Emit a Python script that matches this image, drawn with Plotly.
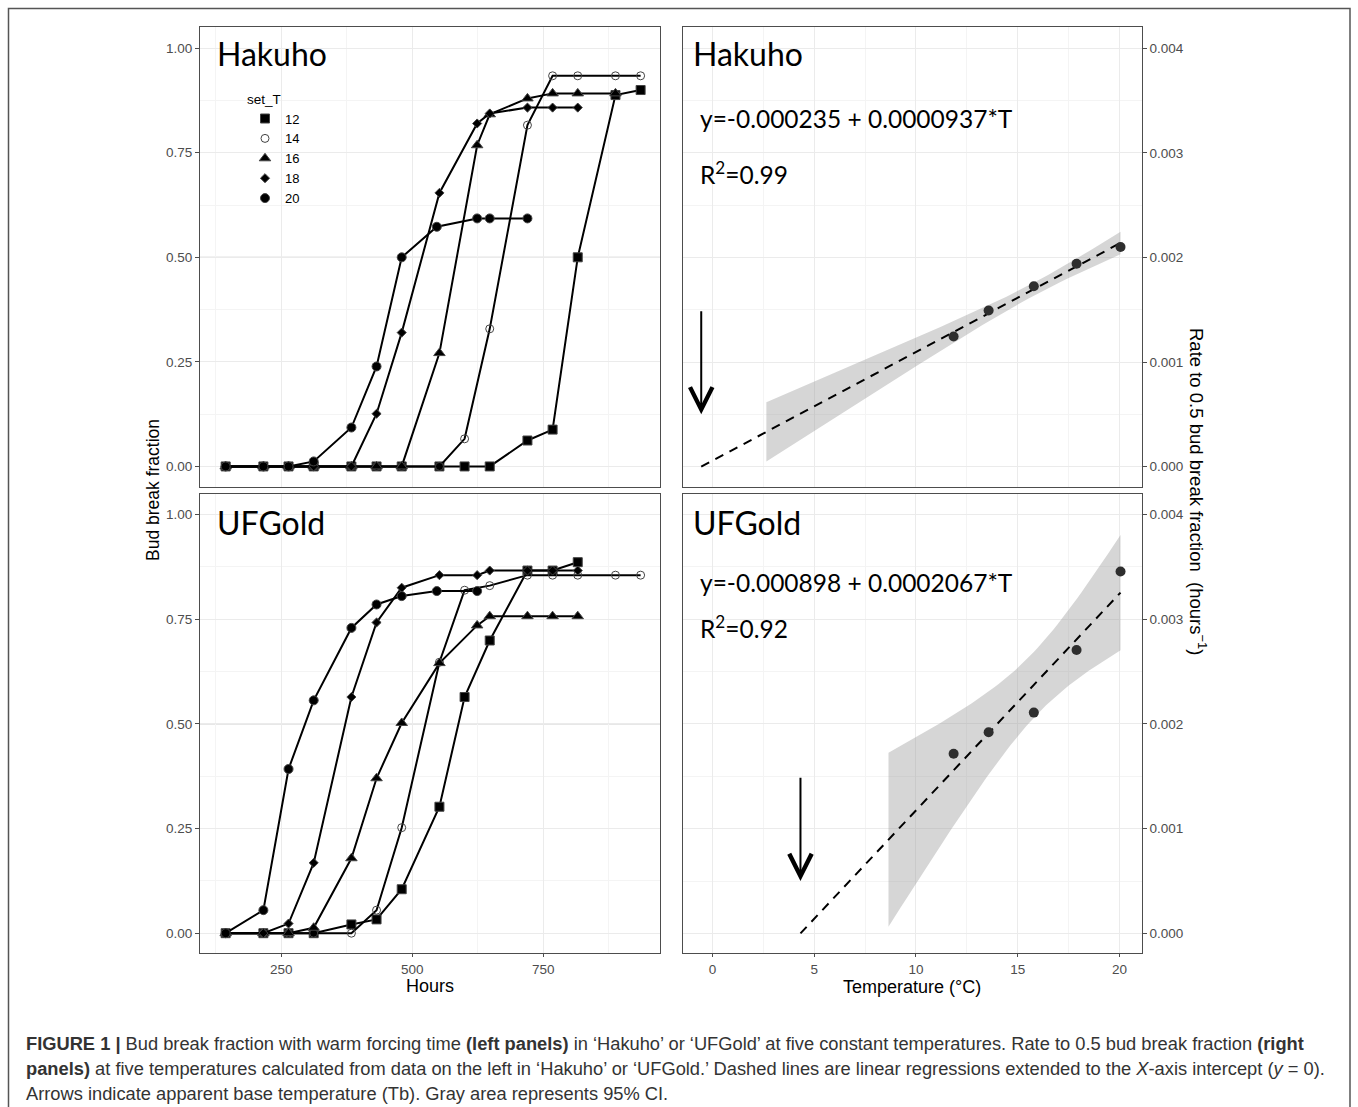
import numpy as np
import plotly.graph_objects as go

# ---------------- data ----------------
set_T = ["12", "14", "16", "18", "20"]

# Hakuho: bud break fraction vs forcing hours
hak_12_h = [144, 216, 264, 312, 384, 432, 480, 552, 600, 648, 720, 768, 816, 888, 936]
hak_12_f = [0, 0, 0, 0, 0, 0, 0, 0, 0, 0, 0.062, 0.088, 0.500, 0.888, 0.900]
hak_14_h = [144, 216, 264, 312, 384, 432, 480, 552, 600, 648, 720, 768, 816, 888, 936]
hak_14_f = [0, 0, 0, 0, 0, 0, 0, 0, 0.066, 0.329, 0.816, 0.934, 0.934, 0.934, 0.934]
hak_16_h = [144, 216, 264, 312, 384, 432, 480, 552, 624, 648, 720, 768, 816, 888]
hak_16_f = [0, 0, 0, 0, 0, 0, 0, 0.271, 0.768, 0.842, 0.880, 0.892, 0.892, 0.892]
hak_18_h = [144, 216, 264, 312, 384, 432, 480, 552, 624, 648, 720, 768, 816]
hak_18_f = [0, 0, 0, 0, 0, 0.126, 0.320, 0.654, 0.820, 0.844, 0.858, 0.858, 0.858]
hak_20_h = [144, 216, 264, 312, 384, 432, 480, 547, 624, 648, 720]
hak_20_f = [0, 0, 0, 0.012, 0.093, 0.239, 0.500, 0.573, 0.593, 0.593, 0.593]

# UFGold: bud break fraction vs forcing hours
ufg_12_h = [144, 216, 264, 312, 384, 432, 480, 552, 600, 648, 720, 768, 816]
ufg_12_f = [0, 0, 0, 0, 0.021, 0.033, 0.105, 0.302, 0.564, 0.699, 0.866, 0.866, 0.886]
ufg_14_h = [144, 216, 264, 312, 384, 432, 480, 552, 600, 648, 720, 768, 816, 888, 936]
ufg_14_f = [0, 0, 0, 0, 0, 0.055, 0.252, 0.647, 0.819, 0.830, 0.855, 0.855, 0.855, 0.855, 0.855]
ufg_16_h = [144, 216, 264, 312, 384, 432, 480, 552, 624, 648, 720, 768, 816]
ufg_16_f = [0, 0, 0, 0.013, 0.179, 0.370, 0.502, 0.645, 0.735, 0.757, 0.757, 0.757, 0.757]
ufg_18_h = [144, 216, 264, 312, 384, 432, 480, 552, 624, 648, 720, 768, 816]
ufg_18_f = [0, 0, 0.023, 0.168, 0.564, 0.742, 0.825, 0.855, 0.855, 0.866, 0.866, 0.866, 0.866]
ufg_20_h = [144, 216, 264, 312, 384, 432, 480, 547, 624]
ufg_20_f = [0, 0.055, 0.392, 0.556, 0.729, 0.785, 0.805, 0.817, 0.817]

# Rate to 0.5 bud break fraction vs mean temperature
temp_mean = [11.85, 13.57, 15.79, 17.89, 20.05]
hak_rate = [0.001244, 0.001493, 0.001725, 0.00194, 0.00210]
ufg_rate = [0.001716, 0.00192, 0.002108, 0.002705, 0.003455]
hak_band_from = 2.65
ufg_band_from = 8.65
arrow_top, arrow_tip = 0.0015, 0.0005
half_line = 0.5

hak_eq = "y=-0.000235 + 0.0000937*T"
hak_r2 = "R<sup>2</sup>=0.99"
ufg_eq = "y=-0.000898 + 0.0002067*T"
ufg_r2 = "R<sup>2</sup>=0.92"

caption = [
    "<b>FIGURE 1 |</b> Bud break fraction with warm forcing time <b>(left panels)</b> in ‘Hakuho’ or ‘UFGold’ at five constant temperatures. Rate to 0.5 bud break fraction <b>(right</b>",
    "<b>panels)</b> at five temperatures calculated from data on the left in ‘Hakuho’ or ‘UFGold.’ Dashed lines are linear regressions extended to the <i>X</i>-axis intercept (<i>y</i> = 0).",
    "Arrows indicate apparent base temperature (Tb). Gray area represents 95% CI.",
]

# ---------------- styling ----------------
W, H = 1358, 1107
SANS = "Liberation Sans, Arial, sans-serif"
CAL = "Lato, Carlito, Calibri, sans-serif"
symbols = {"12": "square", "14": "circle-open", "16": "triangle-up", "18": "diamond", "20": "circle"}
msize = {"12": 9, "14": 8, "16": 10, "18": 7, "20": 9}

def px(x):
    return x / W

def py(y):
    return 1 - y / H

fig = go.Figure()

def add_series(hours, frac, key, xa, ya):
    sym = symbols[key]
    fig.add_trace(go.Scatter(
        x=hours, y=frac, mode="lines+markers", xaxis=xa, yaxis=ya,
        line=dict(color="black", width=2),
        marker=dict(symbol=sym, size=msize[key],
                    color="black" if sym != "circle-open" else "#444",
                    line=dict(width=1, color="#444")),
        showlegend=False, hoverinfo="skip"))

hak = {"12": (hak_12_h, hak_12_f), "14": (hak_14_h, hak_14_f), "16": (hak_16_h, hak_16_f),
       "18": (hak_18_h, hak_18_f), "20": (hak_20_h, hak_20_f)}
ufg = {"12": (ufg_12_h, ufg_12_f), "14": (ufg_14_h, ufg_14_f), "16": (ufg_16_h, ufg_16_f),
       "18": (ufg_18_h, ufg_18_f), "20": (ufg_20_h, ufg_20_f)}

for k in set_T:
    add_series(*hak[k], k, "x", "y")
for k in set_T:
    add_series(*ufg[k], k, "x3", "y3")

# legend-only entries
for k in set_T:
    sym = symbols[k]
    fig.add_trace(go.Scatter(
        x=[None], y=[None], mode="markers", name=k, xaxis="x", yaxis="y",
        marker=dict(symbol=sym, size=msize[k],
                    color="black" if sym != "circle-open" else "#444",
                    line=dict(width=1, color="#444")),
        showlegend=True))

# regression panels
T = np.array(temp_mean)
TCRIT = 3.182  # t(0.975, df=3)

def reg_panel(rate, band_from, xa, ya):
    R = np.array(rate)
    b, a = np.polyfit(T, R, 1)
    n = len(T)
    resid = R - (a + b * T)
    s = np.sqrt(np.sum(resid ** 2) / (n - 2))
    sxx = np.sum((T - T.mean()) ** 2)
    xs = np.linspace(band_from, T.max(), 60)
    fit = a + b * xs
    se = s * np.sqrt(1.0 / n + (xs - T.mean()) ** 2 / sxx)
    up, lo = fit + TCRIT * se, fit - TCRIT * se
    fig.add_trace(go.Scatter(
        x=np.concatenate([xs, xs[::-1]]), y=np.concatenate([up, lo[::-1]]),
        fill="toself", fillcolor="rgba(153,153,153,0.4)", line=dict(width=0),
        mode="lines", xaxis=xa, yaxis=ya, showlegend=False, hoverinfo="skip"))
    x0 = -a / b
    lx = np.array([x0, T.max()])
    fig.add_trace(go.Scatter(
        x=lx, y=a + b * lx, mode="lines", xaxis=xa, yaxis=ya,
        line=dict(color="black", width=2, dash="9px,7px"),
        showlegend=False, hoverinfo="skip"))
    fig.add_trace(go.Scatter(
        x=T, y=R, mode="markers", xaxis=xa, yaxis=ya,
        marker=dict(size=10, color="#2e2e2e"), showlegend=False, hoverinfo="skip"))
    fig.add_annotation(x=x0, y=arrow_tip, ax=x0, ay=arrow_top, xref=xa, yref=ya,
                       axref=xa, ayref=ya, text="", showarrow=True,
                       arrowhead=5, arrowsize=2.2, arrowwidth=2, arrowcolor="black")

reg_panel(hak_rate, hak_band_from, "x2", "y2")
reg_panel(ufg_rate, ufg_band_from, "x4", "y4")

# ---------------- axes ----------------
Lx = [px(200), px(660)]
Rx = [px(682.7), px(1141.7)]
Ty = [py(486.5), py(27.3)]
By = [py(953.3), py(493.5)]

grid = "#ebebeb"
mgrid = "#f4f4f4"
border = "#4d4d4d"
tickfont = dict(family=SANS, size=13.5, color="#4d4d4d")

def xax(domain, anchor, rng, dtick, mdtick, labels):
    return dict(domain=domain, anchor=anchor, range=rng, dtick=dtick, tick0=0,
                showgrid=True, gridcolor=grid, gridwidth=1,
                minor=dict(dtick=mdtick, tick0=0, showgrid=True, gridcolor=mgrid, gridwidth=1),
                showline=True, linecolor=border, linewidth=1, mirror=True,
                ticks="outside" if labels else "", ticklen=3, tickcolor=border,
                showticklabels=labels, tickfont=tickfont, zeroline=False)

def yax(domain, anchor, rng, dtick, mdtick, fmt, side):
    return dict(domain=domain, anchor=anchor, range=rng, dtick=dtick, tick0=0,
                tickformat=fmt, side=side,
                showgrid=True, gridcolor=grid, gridwidth=1,
                minor=dict(dtick=mdtick, tick0=0, showgrid=True, gridcolor=mgrid, gridwidth=1),
                showline=True, linecolor=border, linewidth=1, mirror=True,
                ticks="outside", ticklen=4, tickcolor=border,
                tickfont=tickfont, zeroline=False)

xl = [95, 973]
xr = [-1.46, 21.09]
fig.update_layout(
    xaxis=xax(Lx, "y", xl, 250, 125, False),
    yaxis=yax(Ty, "x", [-0.048, 1.05], 0.25, 0.125, ".2f", "left"),
    xaxis2=xax(Rx, "y2", xr, 5, 2.5, False),
    yaxis2=yax(Ty, "x2", [-0.00019, 0.0042], 0.001, 0.0005, ".3f", "right"),
    xaxis3=xax(Lx, "y3", xl, 250, 125, True),
    yaxis3=yax(By, "x3", [-0.048, 1.05], 0.25, 0.125, ".2f", "left"),
    xaxis4=xax(Rx, "y4", xr, 5, 2.5, True),
    yaxis4=yax(By, "x4", [-0.00019, 0.0042], 0.001, 0.0005, ".3f", "right"),
)

# 0.5 reference line in left panels
for xa, ya in [("x", "y"), ("x3", "y3")]:
    fig.add_shape(type="line", xref=f"{xa} domain", yref=ya, x0=0, x1=1,
                  y0=half_line, y1=half_line, line=dict(color="#b3b3b3", width=1), layer="below")

# outer frame
fig.add_shape(type="rect", xref="paper", yref="paper", x0=px(8.5), x1=px(1350), y0=-0.02, y1=py(8.5),
              line=dict(color="#555555", width=1.5))

# panel titles and equations
def txt(x, y, text, size, family, xanchor="left", color="black", angle=0):
    fig.add_annotation(x=x, y=y, xref="paper", yref="paper", text=text, showarrow=False,
                       xanchor=xanchor, yanchor="middle", textangle=angle,
                       font=dict(family=family, size=size, color=color))

txt(px(215), py(53), "Hakuho", 32, CAL)
txt(px(215), py(523), "UFGold", 32, CAL)
txt(px(691), py(53), "Hakuho", 32, CAL)
txt(px(691), py(523), "UFGold", 32, CAL)
txt(px(698), py(119), hak_eq, 24.5, CAL)
txt(px(698), py(173), hak_r2, 24.5, CAL)
txt(px(698), py(582), ufg_eq, 24.5, CAL)
txt(px(698), py(627), ufg_r2, 24.5, CAL)

# axis titles
txt(px(430), py(986), "Hours", 18, SANS, xanchor="center")
txt(px(912), py(987), "Temperature (°C)", 18, SANS, xanchor="center")
txt(px(153), py(490), "Bud break fraction", 17.5, SANS, xanchor="center", angle=-90)
txt(px(1198), py(491), "Rate to 0.5 bud break fraction  (hours<sup>−1</sup>)", 18.5, SANS,
    xanchor="center", angle=90)

# caption
for i, line in enumerate(caption):
    txt(px(24), py(1043 + 25 * i), line, 18.3, SANS, color="#333333")

fig.update_layout(
    width=W, height=H, margin=dict(l=0, r=0, t=0, b=0),
    paper_bgcolor="white", plot_bgcolor="white",
    showlegend=True,
    legend=dict(x=px(245), y=py(86), xanchor="left", yanchor="top",
                title=dict(text="set_T", font=dict(family=SANS, size=13.5, color="black")),
                font=dict(family=SANS, size=13, color="black"),
                bgcolor="rgba(0,0,0,0)", borderwidth=0, itemwidth=30,
                tracegroupgap=0),
)

fig.write_html("out.html", config={"displayModeBar": False},
               post_script="document.body.style.margin='0px';document.body.style.overflow='hidden';")
